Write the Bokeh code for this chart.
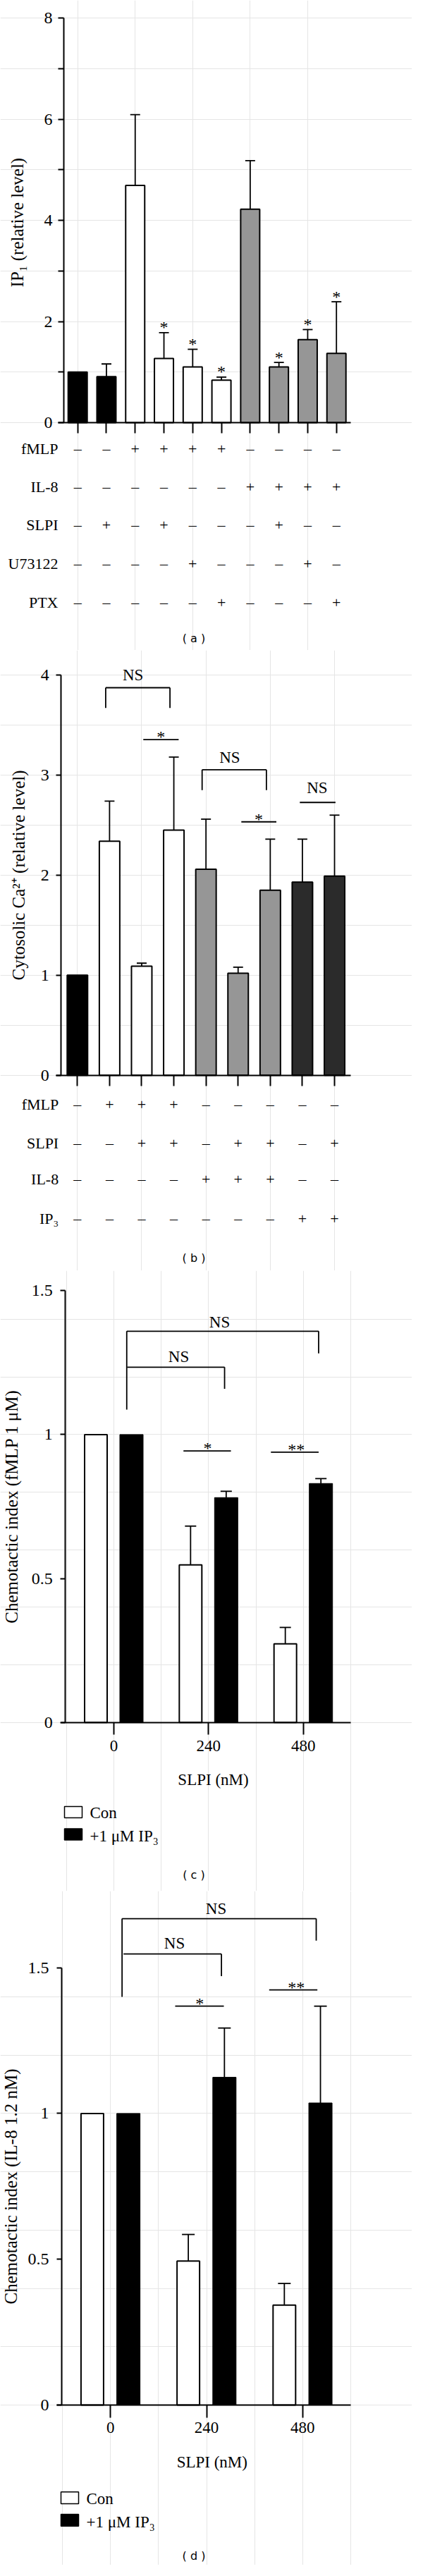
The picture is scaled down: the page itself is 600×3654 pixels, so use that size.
from bokeh.plotting import figure
from bokeh.models import Range1d, FixedTicker, LinearAxis
from bokeh.layouts import column
from bokeh.embed import file_html
from bokeh.resources import INLINE
from bokeh.core.properties import value

SERIF = "Liberation Serif"
SANS = "DejaVu Sans"

# ---------------- data: panel (a) ----------------
a_ip1 = [1.00, 0.91, 4.69, 1.27, 1.10, 0.84, 4.22, 1.10, 1.64, 1.37]
a_ip1_sem = [0.00, 0.25, 1.40, 0.51, 0.35, 0.06, 0.96, 0.09, 0.20, 1.02]
a_group = ["basal", "basal", "fMLP", "fMLP", "fMLP", "fMLP", "IL-8", "IL-8", "IL-8", "IL-8"]
a_sig = ["", "", "", "*", "*", "*", "", "*", "*", "*"]
a_row_names = ["fMLP", "IL-8", "SLPI", "U73122", "PTX"]
a_fmlp = ["–", "–", "+", "+", "+", "+", "–", "–", "–", "–"]
a_il8 = ["–", "–", "–", "–", "–", "–", "+", "+", "+", "+"]
a_slpi = ["–", "+", "–", "+", "–", "–", "–", "+", "–", "–"]
a_u73122 = ["–", "–", "–", "–", "+", "–", "–", "–", "+", "–"]
a_ptx = ["–", "–", "–", "–", "–", "+", "–", "–", "–", "+"]

# ---------------- data: panel (b) ----------------
b_ca = [1.00, 2.34, 1.09, 2.45, 2.06, 1.02, 1.85, 1.93, 1.99]
b_ca_sem = [0.00, 0.40, 0.03, 0.73, 0.50, 0.06, 0.51, 0.43, 0.61]
b_group = ["basal", "fMLP", "fMLP", "fMLP", "IL-8", "IL-8", "IL-8", "IP3", "IP3"]
b_row_names = ["fMLP", "SLPI", "IL-8", "IP₃"]
b_fmlp = ["–", "+", "+", "+", "–", "–", "–", "–", "–"]
b_slpi = ["–", "–", "+", "+", "–", "+", "+", "–", "+"]
b_il8 = ["–", "–", "–", "–", "+", "+", "+", "–", "–"]
b_ip3 = ["–", "–", "–", "–", "–", "–", "–", "+", "+"]

# ---------------- data: panel (c) ----------------
slpi_nM = ["0", "240", "480"]
c_con = [1.00, 0.547, 0.273]
c_con_sem = [0.00, 0.135, 0.057]
c_ip3 = [1.00, 0.781, 0.830]
c_ip3_sem = [0.00, 0.022, 0.017]

# ---------------- data: panel (d) ----------------
d_con = [1.00, 0.494, 0.343]
d_con_sem = [0.00, 0.091, 0.074]
d_ip3 = [1.00, 1.124, 1.036]
d_ip3_sem = [0.00, 0.169, 0.332]

legend_labels = ["Con", "+1 μM IP₃"]

GROUP_COLORS = {"basal": "black", "fMLP": "white", "IL-8": "#969696", "IP3": "#2b2b2b"}


def make_fig(top, H, c0, dx, Y0, s):
    x0 = (8 - c0) / dx
    x1 = (592 - c0) / dx
    y1 = (Y0 - top) / s
    y0 = (Y0 - (top + H)) / s
    p = figure(width=584, height=H, x_range=Range1d(x0, x1), y_range=Range1d(y0, y1),
               min_border=0, toolbar_location=None, output_backend="svg", title=None,
               x_axis_location=None, y_axis_location=None)
    p.outline_line_color = None
    p.background_fill_color = "white"
    p.border_fill_color = "white"
    X = lambda px: (px - c0) / dx
    Y = lambda py: (Y0 - py) / s
    return p, X, Y


def style_y(ax, label, tick_out, standoff, label_standoff):
    ax.axis_line_width = 2
    ax.major_tick_line_width = 2
    ax.minor_tick_line_width = 2
    ax.major_tick_out = tick_out
    ax.major_tick_in = 0
    ax.minor_tick_out = tick_out
    ax.minor_tick_in = 0
    ax.major_label_standoff = standoff
    ax.major_label_text_font = SERIF
    ax.major_label_text_font_size = "24px"
    ax.major_label_text_color = "black"
    ax.axis_label = label
    ax.axis_label_text_font = SERIF
    ax.axis_label_text_font_size = "25px"
    ax.axis_label_text_font_style = "normal"
    ax.axis_label_text_color = "black"
    ax.axis_label_standoff = label_standoff


def style_x(ax, tick_out):
    ax.axis_line_width = 2
    ax.major_tick_line_width = 2
    ax.major_tick_out = tick_out
    ax.major_tick_in = 0
    ax.minor_tick_line_color = None


def txt(p, xs, ys, texts, size, align="center", baseline="middle", font=SERIF):
    p.text(x=xs, y=ys, text=texts, text_font=value(font), text_font_size=value(size),
           text_align=align, text_baseline=baseline, text_color="black")


def error_bars(p, xs, vals, sems, half_cap, lw=1.8):
    x0s, y0s, x1s, y1s = [], [], [], []
    for x, v, e in zip(xs, vals, sems):
        if e <= 0:
            continue
        x0s += [x, x - half_cap]
        y0s += [v, v + e]
        x1s += [x, x + half_cap]
        y1s += [v + e, v + e]
    p.segment(x0=x0s, y0=y0s, x1=x1s, y1=y1s, line_color="black", line_width=lw)


def lines(p, segs, lw=1.8):
    p.segment(x0=[a[0] for a in segs], y0=[a[1] for a in segs],
              x1=[a[2] for a in segs], y1=[a[3] for a in segs],
              line_color="black", line_width=lw)


# =============== panel (a) ===============
pa, XA, YA = make_fig(8, 922, 117.7, 40.78, 607.0, 71.75)
idx_a = list(range(len(a_ip1)))
pa.vbar(x=idx_a, top=a_ip1, bottom=0, width=27 / 40.78,
        fill_color=[GROUP_COLORS[g] for g in a_group], line_color="black", line_width=2)
error_bars(pa, idx_a, a_ip1, a_ip1_sem, 7 / 40.78)
star_x = [i for i in idx_a if a_sig[i]]
star_y = [a_ip1[i] + a_ip1_sem[i] + 7.5 / 71.75 for i in idx_a if a_sig[i]]
txt(pa, star_x, star_y, [a_sig[i] for i in idx_a if a_sig[i]], "24px", baseline="alphabetic")

ya = LinearAxis(fixed_location=XA(98), bounds=(0, 8),
                ticker=FixedTicker(ticks=[0, 2, 4, 6, 8], minor_ticks=[1, 3, 5, 7]))
style_y(ya, "IP₁  (relative level)", 8, 8, 22)
pa.add_layout(ya, "left")
xa = LinearAxis(fixed_location=0, bounds=(XA(90), XA(505)),
                ticker=FixedTicker(ticks=idx_a, minor_ticks=[]),
                major_label_overrides={i: "" for i in idx_a})
style_x(xa, 15)
pa.add_layout(xa, "below")

a_rows = [a_fmlp, a_il8, a_slpi, a_u73122, a_ptx]
a_row_y = [644, 698, 752, 807, 862]
for name, row, ry in zip(a_row_names, a_rows, a_row_y):
    txt(pa, [XA(90)], [YA(ry)], [name], "22px", align="right")
    txt(pa, idx_a, [YA(ry)] * len(row), row, "22px")
txt(pa, [XA(282.5)], [YA(913)], ["( a )"], "16px", font=SANS)

# =============== panel (b) ===============
pb, XB, YB = make_fig(930, 880, 117.3, 45.59, 1532.7, 141.9)
idx_b = list(range(len(b_ca)))
pb.vbar(x=idx_b, top=b_ca, bottom=0, width=29 / 45.59,
        fill_color=[GROUP_COLORS[g] for g in b_group], line_color="black", line_width=2)
error_bars(pb, idx_b, b_ca, b_ca_sem, 7 / 45.59)

# significance brackets (b)
off = -0.12
lines(pb, [
    (1 + off, 3.672, 1 + off, 3.874), (1 + off, 3.874, 3 + off, 3.874), (3 + off, 3.874, 3 + off, 3.672),
    (2.05, 3.355, 3.15, 3.355),
    (4 + off, 2.85, 4 + off, 3.054), (4 + off, 3.054, 6 + off, 3.054), (6 + off, 3.054, 6 + off, 2.85),
    (5.10, 2.533, 6.19, 2.533),
    (6.92, 2.727, 8.03, 2.727),
])
txt(pb, [1.73, 4.74, 7.46], [4.0, 3.178, 2.873], ["NS", "NS", "NS"], "23px")
txt(pb, [2.6, 5.64], [3.355 + 4 / 141.9, 2.533 + 4 / 141.9], ["*", "*"], "24px", baseline="alphabetic")

yb = LinearAxis(fixed_location=XB(94.3), bounds=(0, 4), ticker=FixedTicker(ticks=[0, 1, 2, 3, 4], minor_ticks=[]))
style_y(yb, "Cytosolic Ca²⁺ (relative level)", 7, 10, 15)
pb.add_layout(yb, "left")
xb = LinearAxis(fixed_location=0, bounds=(XB(87), XB(505)), ticker=FixedTicker(ticks=idx_b, minor_ticks=[]),
                major_label_overrides={i: "" for i in idx_b})
style_x(xb, 15)
pb.add_layout(xb, "below")

b_rows = [b_fmlp, b_slpi, b_il8, b_ip3]
b_row_y = [1574, 1629.3, 1680, 1736]
for name, row, ry in zip(b_row_names, b_rows, b_row_y):
    txt(pb, [XB(90.7)], [YB(ry)], [name], "22px", align="right")
    txt(pb, idx_b, [YB(ry)] * len(row), row, "22px")
txt(pb, [XB(282.5)], [YB(1792)], ["( b )"], "16px", font=SANS)


# =============== panels (c) and (d) ===============
def chemotaxis_panel(top, H, c0, dx, Y0, s, con, con_sem, ip3, ip3_sem, ylabel,
                     yaxis_px, xaxis_left_px, ytick_out, ylab_standoff, xtick_out, xlab_standoff,
                     annot, ns_text, star_text, slpi_xy, leg, cap_xy, caption, cap_half):
    p, X, Y = make_fig(top, H, c0, dx, Y0, s)
    g = list(range(len(slpi_nM)))
    xc = [i - 0.19 for i in g]
    xi = [i + 0.186 for i in g]
    p.vbar(x=xc, top=con, bottom=0, width=32 / dx, fill_color="white", line_color="black", line_width=2)
    p.vbar(x=xi, top=ip3, bottom=0, width=33 / dx, fill_color="black", line_color="black", line_width=1)
    error_bars(p, xc, con, con_sem, cap_half / dx)
    error_bars(p, xi, ip3, ip3_sem, cap_half / dx)
    lines(p, annot)
    txt(p, [t[0] for t in ns_text], [t[1] for t in ns_text], ["NS"] * len(ns_text), "23px")
    txt(p, [t[0] for t in star_text], [t[1] + 4 / s for t in star_text], [t[2] for t in star_text],
        "24px", baseline="alphabetic")

    yax = LinearAxis(fixed_location=X(yaxis_px), bounds=(0, 1.5),
                     ticker=FixedTicker(ticks=[0, 0.5, 1, 1.5], minor_ticks=[]))
    style_y(yax, ylabel, ytick_out, 11, ylab_standoff)
    p.add_layout(yax, "left")
    xax = LinearAxis(fixed_location=0, bounds=(X(xaxis_left_px), X(505)),
                     ticker=FixedTicker(ticks=g, minor_ticks=[]),
                     major_label_overrides={i: lab for i, lab in zip(g, slpi_nM)})
    style_x(xax, xtick_out)
    xax.major_label_standoff = xlab_standoff
    xax.major_label_text_font = SERIF
    xax.major_label_text_font_size = "23px"
    xax.major_label_text_color = "black"
    p.add_layout(xax, "below")

    txt(p, [X(slpi_xy[0])], [Y(slpi_xy[1])], ["SLPI (nM)"], "23px")
    # legend
    bx, bw, bh, wy, ky, tx, ty1, ty2 = leg
    p.rect(x=[X(bx), X(bx)], y=[Y(wy), Y(ky)], width=bw / dx, height=bh / s,
           fill_color=["white", "black"], line_color="black", line_width=1.5)
    txt(p, [X(tx), X(tx)], [Y(ty1), Y(ty2)], legend_labels, "23px", align="left")
    txt(p, [X(cap_xy[0])], [Y(cap_xy[1])], [caption], "16px", font=SANS)
    return p


pc = chemotaxis_panel(
    1810, 880, 169.0, 134.35, 2450.7, 408.3, c_con, c_con_sem, c_ip3, c_ip3_sem,
    "Chemotactic index (fMLP 1 μM)", 100.3, 94, 7, 12, 17, 9,
    [(0.136, 1.087, 0.136, 1.359), (0.136, 1.359, 2.162, 1.359), (2.162, 1.359, 2.162, 1.282),
     (0.14, 1.234, 1.169, 1.234), (1.169, 1.234, 1.169, 1.159),
     (0.735, 0.943, 1.236, 0.943), (1.658, 0.939, 2.162, 0.939)],
    [(1.117, 1.39), (0.685, 1.271)],
    [(0.99, 0.943, "*"), (1.926, 0.939, "**")],
    (310, 2531.7),
    (111.5, 25, 16, 2578, 2609.5, 135, 2579.3, 2611.7),
    (282.5, 2666.7), "( c )", 8)

pd = chemotaxis_panel(
    2690, 956, 164.3, 136.2, 3419.0, 413.6, d_con, d_con_sem, d_ip3, d_ip3_sem,
    "Chemotactic index (IL-8 1.2 nM)", 95, 88.3, 7, 8, 18, 6,
    [(0.120, 1.40, 0.120, 1.668), (0.120, 1.668, 2.142, 1.668), (2.142, 1.668, 2.142, 1.593),
     (0.135, 1.547, 1.155, 1.547), (1.155, 1.547, 1.155, 1.471),
     (0.673, 1.368, 1.18, 1.368), (1.652, 1.424, 2.154, 1.424)],
    [(1.099, 1.702), (0.666, 1.584)],
    [(0.928, 1.368, "*"), (1.934, 1.424, "**")],
    (308.3, 3500),
    (106.5, 25, 16.7, 3550.7, 3582.3, 130, 3551.7, 3585),
    (282.5, 3632.5), "( d )", 9)

layout = column(pa, pb, pc, pd, spacing=0)
open("out.html", "w").write(file_html(layout, INLINE))
